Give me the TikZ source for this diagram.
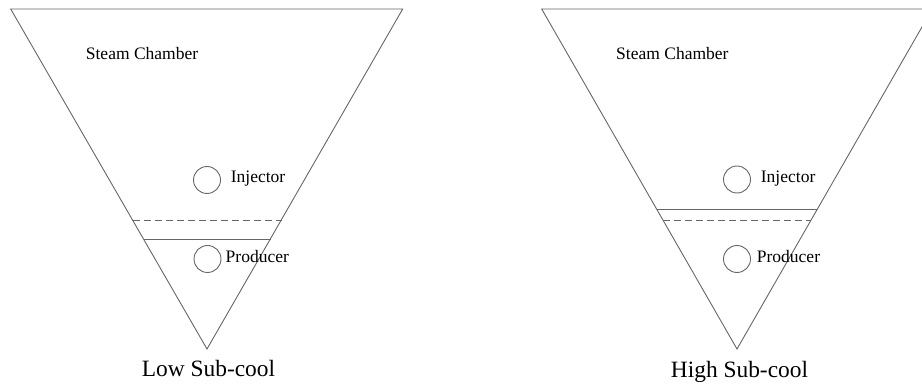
\documentclass[tikz,border=0pt]{standalone}
\usepackage{fontspec}
\setmainfont{Liberation Serif}
\begin{document}
\begin{tikzpicture}[x=1pt,y=-1pt,
  edge/.style={draw=black!60, line width=0.9pt},
  level/.style={draw=black!60, line width=0.9pt},
  dashlevel/.style={draw=black!60, line width=0.9pt, dash pattern=on 7pt off 4pt},
  well/.style={circle, draw=black!60, line width=0.9pt, minimum size=27pt, inner sep=0pt},
  lbl/.style={inner sep=0pt, anchor=base west, font=\fontsize{17.5}{20}\selectfont},
  title/.style={inner sep=0pt, anchor=base, font=\fontsize{23.4}{27}\selectfont}]
\useasboundingbox (0,0) rectangle (922,387);
\clip (0,0) rectangle (922,387);
% Left triangle
\draw[edge] (10.7,9) -- (402.7,9) -- (207,349) -- cycle;
\draw[dashlevel] (132.7,220.7) -- (281.5,220.7);
\draw[level] (143.5,239) -- (270.8,239);
\node[lbl] (scL) at (85.7,60) {Steam Chamber};
\node[well] (injL) at (207,180) {};
\node[well] (proL) at (207.5,259) {};
\node[lbl] (injLt) at (230.7,183) {Injector};
\node[lbl] (proLt) at (225.5,263) {Producer};
\node[title] (lowt) at (208.5,376.7) {Low Sub-cool};
% Right triangle
\draw[edge] (541.7,9) -- (932.3,9) -- (737,349) -- cycle;
\draw[level] (656.6,209) -- (817.4,209);
\draw[dashlevel] (663.2,220.7) -- (810.6,220.7);
\node[lbl] (scR) at (616,60) {Steam Chamber};
\node[well] (injR) at (737,179.5) {};
\node[well] (proR) at (737,259) {};
\node[lbl] (injRt) at (760.7,183) {Injector};
\node[lbl] (proRt) at (756.7,263) {Producer};
\node[title] (hight) at (739.5,377.5) {High Sub-cool};
\end{tikzpicture}
\end{document}
